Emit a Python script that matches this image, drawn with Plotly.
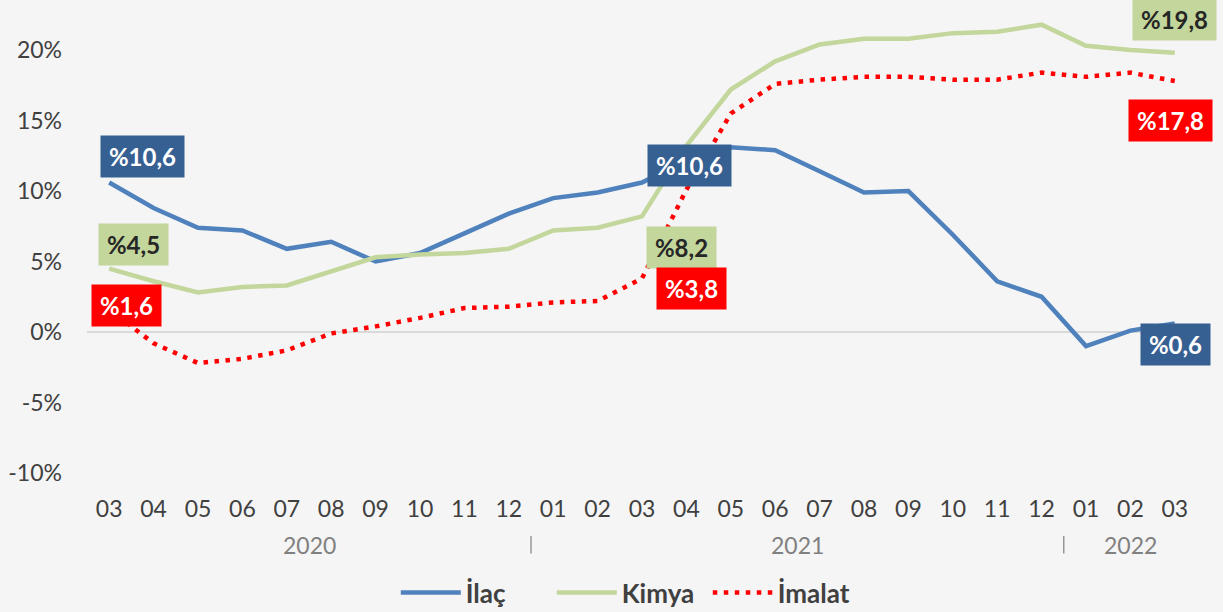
import plotly.graph_objects as go

# ---- data ----
months = ["03", "04", "05", "06", "07", "08", "09", "10", "11", "12",
          "01", "02", "03", "04", "05", "06", "07", "08", "09", "10", "11", "12",
          "01", "02", "03"]
years = ["2020", "2021", "2022"]
year_first_idx = [0, 10, 22]
year_last_idx = [9, 21, 24]

ilac = [10.6, 8.8, 7.4, 7.2, 5.9, 6.4, 5.0, 5.6, 7.0, 8.4,
        9.5, 9.9, 10.6, 12.2, 13.1, 12.9, 11.4, 9.9, 10.0, 6.9, 3.6, 2.5,
        -1.0, 0.1, 0.6]
kimya = [4.5, 3.6, 2.8, 3.2, 3.3, 4.3, 5.3, 5.5, 5.6, 5.9,
         7.2, 7.4, 8.2, 13.2, 17.2, 19.2, 20.4, 20.8, 20.8, 21.2, 21.3, 21.8,
         20.3, 20.0, 19.8]
imalat = [1.6, -0.8, -2.2, -1.9, -1.3, -0.1, 0.4, 1.0, 1.7, 1.8,
          2.1, 2.2, 3.8, 10.1, 15.5, 17.6, 17.9, 18.1, 18.1, 17.9, 17.9, 18.4,
          18.1, 18.4, 17.8]

series_names = ["İlaç", "Kimya", "İmalat"]
y_ticks = [-10, -5, 0, 5, 10, 15, 20]
y_tick_text = ["-10%", "-5%", "0%", "5%", "10%", "15%", "20%"]

# ---- styles ----
FONT = "Lato, Open Sans, sans-serif"
TXT = "#404040"
colors = {"İlaç": "#4f81bd", "Kimya": "#c3d69b", "İmalat": "#ff0000"}
box_colors = {"İlaç": "#376092", "Kimya": "#c3d69b", "İmalat": "#ff0000"}
box_text = {"İlaç": "white", "Kimya": "#262626", "İmalat": "white"}
data = {"İlaç": ilac, "Kimya": kimya, "İmalat": imalat}

x = list(range(len(months)))

fig = go.Figure()
fig.add_trace(go.Scatter(x=x, y=ilac, name="İlaç", mode="lines",
                         line=dict(color=colors["İlaç"], width=4.5)))
fig.add_trace(go.Scatter(x=x, y=kimya, name="Kimya", mode="lines",
                         line=dict(color=colors["Kimya"], width=4.5)))
fig.add_trace(go.Scatter(x=x, y=imalat, name="İmalat", mode="lines",
                         line=dict(color=colors["İmalat"], width=4.5, dash="4.5px,6.5px")))

# data labels: (series, index, xshift, yshift, box width)
labels = [
    ("İlaç", 0, 33, 26, 81), ("Kimya", 0, 24, 24, 67), ("İmalat", 0, 17, 4, 67),
    ("İlaç", 12, 47, 17, 81), ("Kimya", 12, 39, -31, 67), ("İmalat", 12, 49, -10, 67),
    ("Kimya", 24, 0, 33, 81), ("İmalat", 24, -4, -39, 81), ("İlaç", 24, 1, -21, 67),
]
for s, i, dx, dy, w in labels:
    v = data[s][i]
    fig.add_annotation(x=x[i], y=v, xref="x", yref="y",
                       text="<b>%" + f"{v:.1f}".replace(".", ",") + "</b>",
                       showarrow=False, xshift=dx, yshift=dy,
                       width=w, height=39, bgcolor=box_colors[s],
                       font=dict(family=FONT, size=24, color=box_text[s]))

# year labels and separators
for yr, a, b in zip(years, year_first_idx, year_last_idx):
    fig.add_annotation(x=(x[a] + x[b]) / 2, y=-0.152, xref="x", yref="paper",
                       yanchor="middle", text=yr, showarrow=False,
                       font=dict(family=FONT, size=23, color="#808080"))
for a in year_first_idx[1:]:
    fig.add_shape(type="line", x0=x[a] - 0.5, x1=x[a] - 0.5, xref="x",
                  y0=-0.133, y1=-0.170, yref="paper",
                  line=dict(color="#808080", width=1.2))

fig.update_layout(
    width=1223, height=612,
    margin=dict(l=87, r=26, t=0, b=139, autoexpand=False),
    paper_bgcolor="#f5f5f5", plot_bgcolor="#f5f5f5",
    font=dict(family=FONT, color=TXT),
    showlegend=True,
    legend=dict(orientation="h", x=0.489, xanchor="center", y=-0.253, yanchor="middle",
                font=dict(family=FONT, size=26, color=TXT, weight="bold"),
                bgcolor="rgba(0,0,0,0)", itemwidth=60, entrywidth=81),
    xaxis=dict(range=[-0.5, len(months) - 0.5], tickvals=x, ticktext=months,
               showgrid=False, zeroline=False, showline=False, ticks="",
               tickfont=dict(family=FONT, size=23, color=TXT), ticklabelstandoff=20),
    yaxis=dict(range=[-10, 23.55], tickvals=y_ticks, ticktext=y_tick_text,
               showgrid=False, zeroline=True, zerolinecolor="#d9d9d9", zerolinewidth=1.5,
               showline=False, ticks="",
               tickfont=dict(family=FONT, size=23, color=TXT), ticklabelstandoff=24),
)

fig.write_html("out.html", config={"displayModeBar": False},
               post_script="document.body.style.margin='0';")
